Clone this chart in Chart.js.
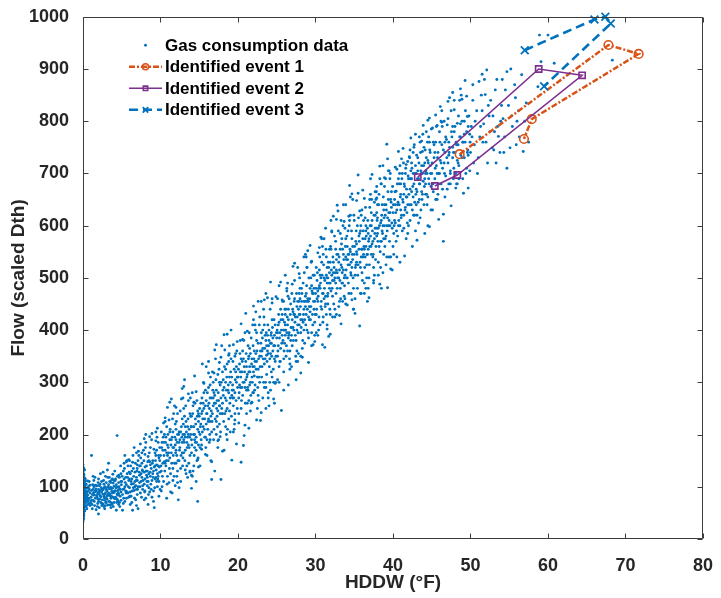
<!DOCTYPE html>
<html><head><meta charset="utf-8">
<script src="https://cdn.jsdelivr.net/npm/chart.js@4/dist/chart.umd.min.js"></script>
<style>html,body{margin:0;padding:0;background:#fff;}#wrap{width:721px;height:598px;}</style>
</head><body><div id="wrap"><canvas id="c" width="721" height="598"></canvas></div>
<script>
// ---- tick values ----
const xTickValues = [0,10,20,30,40,50,60,70,80];
const yTickValues = [0,100,200,300,400,500,600,700,800,900,1000];

// ---- gas consumption scatter (HDDW, Flow), by HDDW band ----
const gasBand0 = [[0,35],[0,42],[0.1,48],[0,52],[0.2,55],[0,58],[0.1,61],[0.3,63],[0,65],[0.2,67],[0,68],[0.1,70],[0.4,71],[0,72],[0.2,73],[0.1,74],[0,75],[0.3,76],[0.1,77],[0,78],[0.2,79],[0.5,80],[0,81],[0.1,82],[0.3,83],[0,84],[0.2,85],[0.1,86],[0,87],[0.4,88],[0.2,89],[0,90],[0.1,91],[0.3,92],[0,93],[0.2,94],[0.1,95],[0,96],[0.5,97],[0.2,98],[0,99],[0.1,101],[0.3,103],[0,105],[0.2,107],[0.1,110],[0,112],[0.3,115],[0,118],[0.1,122],[0,127],[0.2,132],[0,138],[0.1,60],[0.6,66],[0.7,92],[0.4,105],[0.8,78],[0,45],[0.1,39],[0.2,100],[0.6,84],[0.3,70],[0.5,58],[0.9,88],[0.7,74],[0.1,108],[0.8,96],[0.4,62],[0.6,111]];
const gasBand0b = [[0,33],[0.1,44],[0,50],[0.2,53],[0,56],[0.1,57],[0,59],[0.3,62],[0,64],[0.1,66],[0.2,69],[0,70],[0.1,73],[0.3,74],[0,76],[0.2,77],[0.1,79],[0,80],[0.3,81],[0.1,83],[0,85],[0.2,86],[0.4,87],[0,89],[0.1,90],[0.3,91],[0,92],[0.2,93],[0.1,94],[0,97],[0.3,98],[0.1,100],[0,102],[0.2,104],[0,106],[0.1,109],[0.3,111],[0,114],[0.2,117],[0,120],[0.1,124],[0,130],[0.1,135],[0,142],[0.6,72],[0.5,90],[0.7,100],[0.9,64],[0.8,110],[0.55,76]];
const gasBand1 = [[1.0,70],[1.2,85],[1.3,95],[1.5,64],[1.6,78],[1.8,102],[1.9,88],[2.0,72],[2.1,60],[2.2,93],[2.3,81],[2.4,110],[2.5,75],[2.6,67],[2.7,98],[2.8,86],[2.9,120],[3.0,79],[3.1,92],[3.2,65],[3.3,104],[3.4,83],[3.5,71],[3.6,96],[3.7,113],[3.8,88],[3.9,62],[4.0,101],[4.1,77],[4.2,92],[4.3,55],[4.4,198],[4.5,84],[4.6,108],[4.7,70],[4.8,95],[4.9,125],[1.1,160],[1.4,112],[1.7,56],[2.0,48],[2.4,90],[2.7,105],[3.0,70],[3.4,96],[3.8,115],[4.2,80],[4.6,66],[4.9,90],[1.3,74],[1.6,92],[2.2,83],[2.8,74],[3.3,88],[3.6,78],[4.0,89],[4.4,99],[4.8,82],[0.9,103],[1.5,90],[2.5,95],[3.5,86],[4.5,93],[1.9,68],[2.9,64],[3.9,107],[4.7,118],[2.1,102],[3.2,118],[4.1,130],[1.2,58],[2.6,128],[3.7,69],[4.3,104],[1.8,81],[2.3,70],[3.1,83],[4.9,74],[0.8,68],[1.1,93],[2.0,115],[2.9,97],[3.6,60],[4.6,86],[4.0,70],[1.4,100],[3.0,108],[4.4,76],[2.7,62],[3.8,97]];
const gasBand1b = [[1.05,80],[1.15,66],[1.25,104],[1.35,88],[1.45,72],[1.55,118],[1.65,96],[1.75,84],[1.85,62],[1.95,108],[2.05,90],[2.15,76],[2.25,125],[2.35,98],[2.45,64],[2.55,86],[2.65,112],[2.75,79],[2.85,100],[2.95,70],[3.05,94],[3.15,132],[3.25,85],[3.35,72],[3.45,110],[3.55,99],[3.65,82],[3.75,66],[3.85,124],[3.95,91],[4.05,78],[4.15,112],[4.25,98],[4.35,70],[4.45,120],[4.55,88],[4.65,100],[4.75,62],[4.85,140],[4.95,104],[1.1,74],[1.6,103],[2.1,86],[2.6,94],[3.1,76],[3.6,108],[4.1,92],[4.6,122],[1.4,84],[1.9,77],[2.4,68],[2.9,88],[3.4,118],[3.9,80],[4.4,86],[4.9,110],[1.7,92],[2.2,105],[2.7,82],[3.2,99],[3.7,91],[4.2,115],[4.7,96],[1.3,120],[2.8,58],[3.3,145],[4.5,73],[2.0,95],[3.5,65],[4.0,112]];
const gasBand2 = [[5.0,110],[5.1,85],[5.2,130],[5.3,96],[5.4,72],[5.5,118],[5.6,104],[5.7,90],[5.8,140],[5.9,112],[6.0,98],[6.1,125],[6.2,82],[6.3,115],[6.4,147],[6.5,106],[6.6,93],[6.7,128],[6.8,75],[6.9,118],[7.0,135],[7.1,100],[7.2,160],[7.3,122],[7.4,88],[7.5,110],[7.6,145],[7.7,95],[7.8,170],[7.9,128],[8.0,115],[8.1,200],[8.2,140],[8.3,102],[8.4,158],[8.5,125],[8.6,90],[8.7,175],[8.8,135],[8.9,112],[9.0,150],[9.1,130],[9.2,60],[9.3,165],[9.4,118],[9.5,142],[9.6,100],[9.7,185],[9.8,155],[9.9,128],[5.2,68],[5.6,78],[6.0,150],[6.3,70],[6.7,100],[7.0,85],[7.3,108],[7.7,130],[8.0,92],[8.3,130],[8.6,148],[8.9,80],[9.2,138],[9.5,170],[9.8,110],[5.4,100],[6.2,110],[6.9,95],[7.6,118],[8.4,110],[9.1,92],[9.7,140],[5.8,88],[6.5,135],[7.1,150],[7.9,105],[8.7,120],[9.4,160],[6.1,90],[7.4,140],[8.5,98],[9.9,175],[5.3,145],[7.0,112],[8.2,122],[9.6,125],[6.8,102],[8.0,162],[9.3,115],[5.9,80]];
const gasBand2b = [[5.05,120],[5.15,95],[5.25,78],[5.35,135],[5.45,108],[5.55,88],[5.65,150],[5.75,118],[5.85,100],[5.95,128],[6.05,82],[6.15,140],[6.25,105],[6.35,92],[6.45,160],[6.55,120],[6.65,78],[6.75,145],[6.85,112],[6.95,130],[7.05,95],[7.15,168],[7.25,128],[7.35,100],[7.45,155],[7.55,80],[7.65,132],[7.75,112],[7.85,150],[7.95,90],[8.05,175],[8.15,130],[8.25,110],[8.35,148],[8.45,85],[8.55,165],[8.65,128],[8.75,105],[8.85,190],[8.95,145],[9.05,118],[9.15,172],[9.25,98],[9.35,150],[9.45,132],[9.55,195],[9.65,115],[9.75,160],[9.85,138],[9.95,95],[5.5,92],[6.0,115],[6.5,98],[7.0,142],[7.5,125],[8.0,138],[8.5,150],[9.0,125],[9.5,110],[5.3,115],[6.3,130],[7.3,140],[8.3,118],[9.3,140],[5.7,125],[6.7,110],[7.7,102],[8.7,142],[9.7,120],[6.9,165],[8.1,185],[9.4,205],[7.9,75],[8.8,95],[9.9,150]];
const gasBand2c = [[5.1,55],[5.6,148],[6.1,66],[6.6,175],[7.1,58],[7.6,165],[8.1,78],[8.6,196],[9.1,72],[9.6,212],[5.4,160],[6.4,55],[7.4,182],[8.4,66],[9.4,188],[5.9,152],[6.9,64],[7.9,192],[8.9,202],[9.8,82]];
const gasBand3 = [[10.0,160],[10.1,130],[10.2,185],[10.3,145],[10.4,110],[10.5,200],[10.6,170],[10.7,140],[10.8,215],[10.9,180],[11.0,150],[11.1,228],[11.2,190],[11.3,125],[11.4,165],[11.5,88],[11.6,205],[11.7,175],[11.8,145],[11.9,220],[12.0,190],[12.1,160],[12.2,240],[12.3,75],[12.4,205],[12.5,175],[12.6,135],[12.7,215],[12.8,185],[12.9,155],[13.0,250],[13.1,200],[13.2,170],[13.3,225],[13.4,140],[13.5,195],[13.6,265],[13.7,210],[13.8,160],[13.9,235],[14.0,190],[14.1,120],[14.2,255],[14.3,215],[14.4,175],[14.5,230],[14.6,195],[14.7,150],[14.8,72],[14.9,240],[10.3,170],[10.7,195],[11.2,155],[11.6,135],[12.0,170],[12.4,150],[12.8,230],[13.2,195],[13.6,180],[14.0,215],[14.4,200],[14.8,210],[10.5,148],[11.0,175],[11.5,195],[12.0,210],[12.5,190],[13.0,165],[13.5,215],[14.0,165],[14.5,185],[10.9,120],[11.9,180],[12.9,200],[13.9,200],[14.9,180],[10.2,100],[11.3,90],[12.6,110],[13.8,130],[14.6,110],[10.6,225],[12.2,130],[13.4,185],[14.3,140],[11.7,240],[13.1,235],[14.7,265],[14.0,97]];
const gasBand3b = [[10.05,140],[10.15,175],[10.25,120],[10.35,195],[10.45,160],[10.55,130],[10.65,185],[10.75,150],[10.85,105],[10.95,200],[11.05,165],[11.15,135],[11.25,210],[11.35,180],[11.45,145],[11.55,230],[11.65,160],[11.75,120],[11.85,195],[11.95,165],[12.05,225],[12.15,185],[12.25,150],[12.35,200],[12.45,170],[12.55,245],[12.65,160],[12.75,195],[12.85,140],[12.95,220],[13.05,185],[13.15,150],[13.25,255],[13.35,205],[13.45,175],[13.55,230],[13.65,145],[13.75,195],[13.85,270],[13.95,215],[14.05,180],[14.15,240],[14.25,200],[14.35,160],[14.45,260],[14.55,220],[14.65,185],[14.75,235],[14.85,155],[14.95,205],[10.4,185],[10.8,165],[11.2,205],[11.6,175],[12.0,145],[12.4,185],[12.8,165],[13.2,215],[13.6,200],[14.0,235],[14.4,190],[14.8,245],[10.6,145],[11.4,190],[12.2,200],[13.0,190],[13.8,240],[14.6,170],[10.1,205],[11.1,108],[12.1,120],[13.3,125],[14.2,130],[11.8,255],[12.9,270],[14.1,280],[10.9,160],[12.6,205],[13.7,175],[14.9,225]];
const gasBand3c = [[10.1,92],[10.4,222],[10.8,78],[11.2,262],[11.6,112],[12.0,252],[12.4,98],[12.8,288],[13.2,132],[13.6,278],[14.0,122],[14.4,312],[14.8,152],[10.6,232],[11.4,268],[12.2,108],[13.0,292],[13.8,128],[14.6,282],[11.9,102],[12.7,268],[13.5,118],[14.3,262],[10.9,252],[14.9,138]];
const gasBand4 = [[15.0,235],[15.1,200],[15.2,260],[15.3,180],[15.4,245],[15.5,215],[15.6,280],[15.7,230],[15.8,195],[15.9,265],[16.0,240],[16.1,210],[16.2,290],[16.3,250],[16.4,225],[16.5,150],[16.6,270],[16.7,240],[16.8,300],[16.9,210],[17.0,130],[17.1,260],[17.2,285],[17.3,235],[17.4,315],[17.5,265],[17.6,220],[17.7,295],[17.8,114],[17.9,250],[18.0,320],[18.1,275],[18.2,391],[18.3,240],[18.4,300],[18.5,265],[18.6,335],[18.7,285],[18.8,230],[18.9,310],[19.0,270],[19.1,345],[19.2,151],[19.3,295],[19.4,255],[19.5,325],[19.6,280],[19.7,355],[19.8,300],[19.9,250],[15.2,220],[15.6,250],[16.0,190],[16.4,270],[16.8,255],[17.2,200],[17.6,300],[18.0,260],[18.4,215],[18.8,340],[19.2,310],[19.6,240],[15.4,205],[15.8,285],[16.2,230],[16.6,205],[17.0,275],[17.4,245],[17.8,270],[18.2,290],[18.6,250],[19.0,300],[19.4,285],[19.8,330],[15.1,175],[16.3,185],[17.5,190],[18.5,200],[19.5,210],[13.1,305],[15.9,330],[17.1,345],[18.9,370],[16.7,320],[20.4,147],[17.6,338],[16.6,114]];
const gasBand4b = [[15.05,250],[15.15,215],[15.25,190],[15.35,270],[15.45,230],[15.55,300],[15.65,210],[15.75,255],[15.85,175],[15.95,240],[16.05,280],[16.15,225],[16.25,260],[16.35,200],[16.45,310],[16.55,245],[16.65,225],[16.75,285],[16.85,190],[16.95,260],[17.05,230],[17.15,305],[17.25,250],[17.35,215],[17.45,280],[17.55,325],[17.65,255],[17.75,205],[17.85,300],[17.95,240],[18.05,285],[18.15,225],[18.25,330],[18.35,270],[18.45,245],[18.55,310],[18.65,210],[18.75,295],[18.85,355],[18.95,260],[19.05,320],[19.15,235],[19.25,285],[19.35,340],[19.45,270],[19.55,220],[19.65,305],[19.75,265],[19.85,360],[19.95,290],[15.3,240],[15.7,195],[16.1,255],[16.5,235],[16.9,280],[17.3,265],[17.7,240],[18.1,305],[18.5,285],[18.9,245],[19.3,270],[19.7,320],[15.5,260],[16.4,295],[17.2,225],[18.0,240],[18.8,280],[19.6,350],[15.9,220],[16.8,270],[17.6,255],[18.4,325],[19.2,275],[19.9,310],[16.0,160],[17.4,175],[18.6,190],[19.4,205],[16.2,340],[17.9,370]];
const gasBand4c = [[15.1,140],[15.4,335],[15.8,162],[16.2,318],[16.6,148],[17.0,362],[17.4,188],[17.8,348],[18.2,170],[18.6,392],[19.0,205],[19.4,372],[19.8,182],[15.6,298],[16.4,190],[17.2,372],[18.0,168],[18.8,352],[19.6,228],[16.9,318],[17.7,196],[18.3,362],[19.1,400],[15.3,172],[19.9,378]];
const gasBand5 = [[20.0,310],[20.1,270],[20.2,335],[20.3,290],[20.4,250],[20.5,320],[20.6,360],[20.7,179],[20.8,300],[20.9,218],[21.0,340],[21.1,285],[21.2,315],[21.3,370],[21.4,265],[21.5,330],[21.6,300],[21.7,385],[21.8,345],[21.9,280],[22.0,320],[22.1,360],[22.2,295],[22.3,435],[22.4,340],[22.5,310],[22.6,375],[22.7,265],[22.8,350],[22.9,227],[23.0,395],[23.1,330],[23.2,365],[23.3,300],[23.4,410],[23.5,345],[23.6,380],[23.7,315],[23.8,360],[23.9,280],[24.0,400],[24.1,345],[24.2,375],[24.3,320],[24.4,420],[24.5,360],[24.6,300],[24.7,390],[24.8,340],[24.9,464],[20.2,295],[20.6,275],[21.0,305],[21.4,320],[21.8,310],[22.2,340],[22.6,325],[23.0,350],[23.4,335],[23.8,390],[24.2,355],[24.6,370],[20.4,345],[21.2,260],[22.0,280],[22.8,300],[23.6,290],[24.4,310],[20.8,330],[21.6,355],[22.4,380],[23.2,400],[24.0,380],[24.8,410],[21.1,240],[22.5,250],[23.9,270],[24.7,260],[20.3,380],[21.9,410],[23.3,440],[24.1,300],[22.1,312],[23.7,352],[20.9,290],[24.3,395],[21.5,295]];
const gasBand5b = [[20.05,325],[20.15,280],[20.25,355],[20.35,310],[20.45,265],[20.55,340],[20.65,300],[20.75,380],[20.85,320],[20.95,260],[21.05,355],[21.15,310],[21.25,290],[21.35,345],[21.45,395],[21.55,320],[21.65,275],[21.75,335],[21.85,300],[21.95,370],[22.05,345],[22.15,285],[22.25,400],[22.35,325],[22.45,360],[22.55,290],[22.65,345],[22.75,410],[22.85,330],[22.95,375],[23.05,310],[23.15,385],[23.25,345],[23.35,425],[23.45,365],[23.55,300],[23.65,395],[23.75,340],[23.85,410],[23.95,370],[24.05,330],[24.15,440],[24.25,390],[24.35,350],[24.45,405],[24.55,325],[24.65,420],[24.75,370],[24.85,300],[24.95,395],[20.3,320],[20.7,345],[21.1,330],[21.5,365],[21.9,330],[22.3,355],[22.7,310],[23.1,360],[23.5,390],[23.9,355],[24.3,375],[24.7,345],[20.5,290],[21.3,285],[22.1,330],[22.9,360],[23.7,370],[24.5,385],[20.1,240],[21.7,260],[22.6,275],[23.4,290],[24.2,285],[20.9,395],[22.0,420],[23.0,455],[24.4,460],[21.4,350],[22.4,395],[24.9,350]];
const gasBand5c = [[20.1,222],[20.4,412],[20.8,198],[21.2,398],[21.6,245],[22.0,446],[22.4,228],[22.8,425],[23.2,270],[23.6,470],[24.0,255],[24.4,452],[24.8,298],[20.6,382],[21.4,212],[22.2,410],[23.0,242],[23.8,462],[24.6,268],[21.0,432],[22.6,455],[23.4,458],[24.2,492],[21.8,262],[23.6,250]];
const gasBand6 = [[25.0,385],[25.1,350],[25.2,410],[25.3,330],[25.4,395],[25.5,365],[25.6,246],[25.7,430],[25.8,380],[25.9,345],[26.0,415],[26.1,390],[26.2,440],[26.3,475],[26.4,360],[26.5,420],[26.6,395],[26.7,335],[26.8,450],[26.9,405],[27.0,370],[27.1,435],[27.2,400],[27.3,460],[27.4,425],[27.5,380],[27.6,445],[27.7,410],[27.8,355],[27.9,470],[28.0,430],[28.1,395],[28.2,455],[28.3,420],[28.4,490],[28.5,440],[28.6,375],[28.7,465],[28.8,430],[28.9,400],[29.0,552],[29.1,455],[29.2,420],[29.3,480],[29.4,445],[29.5,395],[29.6,470],[29.7,505],[29.8,440],[29.9,415],[25.2,370],[25.6,400],[26.0,375],[26.4,410],[26.8,380],[27.2,430],[27.6,400],[28.0,460],[28.4,415],[28.8,470],[29.2,445],[29.6,430],[25.4,340],[26.2,350],[27.0,420],[27.8,440],[28.6,420],[29.4,500],[25.8,420],[26.6,460],[27.4,390],[28.2,480],[29.0,460],[29.8,480],[25.3,300],[26.9,330],[28.1,350],[29.5,370],[25.9,455],[27.3,495],[28.9,520],[26.5,385],[27.9,410],[29.1,425],[25.1,395],[27.6,360],[28.5,455],[26.1,430],[29.9,455]];
const gasBand6b = [[25.05,400],[25.15,360],[25.25,430],[25.35,385],[25.45,340],[25.55,420],[25.65,375],[25.75,455],[25.85,400],[25.95,360],[26.05,440],[26.15,400],[26.25,370],[26.35,425],[26.45,465],[26.55,390],[26.65,345],[26.75,430],[26.85,405],[26.95,470],[27.05,440],[27.15,380],[27.25,455],[27.35,415],[27.45,350],[27.55,470],[27.65,425],[27.75,395],[27.85,455],[27.95,500],[28.05,445],[28.15,405],[28.25,470],[28.35,380],[28.45,430],[28.55,510],[28.65,455],[28.75,410],[28.85,485],[28.95,440],[29.05,395],[29.15,500],[29.25,460],[29.35,420],[29.45,530],[29.55,475],[29.65,410],[29.75,455],[29.85,505],[29.95,430],[25.3,415],[25.7,390],[26.1,410],[26.5,440],[26.9,390],[27.3,430],[27.7,455],[28.1,420],[28.5,400],[28.9,455],[29.3,435],[29.7,470],[25.5,440],[26.3,395],[27.1,405],[27.9,430],[28.7,445],[29.5,485],[25.9,320],[26.7,360],[27.5,340],[28.3,365],[29.1,385],[29.9,390],[25.1,460],[26.4,490],[27.7,520],[28.8,540],[26.0,400],[28.0,480]];
const gasBand6c = [[25.1,305],[25.5,492],[25.9,285],[26.3,480],[26.7,325],[27.1,522],[27.5,305],[27.9,508],[28.3,348],[28.7,545],[29.1,338],[29.5,532],[29.9,378],[25.7,458],[26.5,295],[27.3,528],[28.1,318],[28.9,520],[29.7,372],[26.1,505],[27.7,340],[28.5,540],[29.3,562],[25.3,485],[27.0,488]];
const gasBand7 = [[30.0,470],[30.1,430],[30.2,495],[30.3,455],[30.4,400],[30.5,515],[30.6,480],[30.7,445],[30.8,530],[30.9,470],[31.0,425],[31.1,500],[31.2,367],[31.3,465],[31.4,540],[31.5,490],[31.6,450],[31.7,520],[31.8,480],[31.9,430],[32.0,555],[32.1,505],[32.2,465],[32.3,530],[32.4,495],[32.5,440],[32.6,570],[32.7,515],[32.8,480],[32.9,545],[33.0,500],[33.1,455],[33.2,585],[33.3,525],[33.4,490],[33.5,555],[33.6,515],[33.7,465],[33.8,595],[33.9,540],[34.0,500],[34.1,560],[34.2,525],[34.3,470],[34.4,610],[34.5,550],[34.6,505],[34.7,575],[34.8,535],[34.9,480],[30.2,460],[30.6,505],[31.0,470],[31.4,505],[31.8,510],[32.2,495],[32.6,490],[33.0,530],[33.4,520],[33.8,505],[34.2,545],[34.6,530],[30.4,480],[31.2,495],[32.0,475],[32.8,510],[33.6,545],[34.4,525],[30.8,440],[31.6,470],[32.4,520],[33.2,480],[34.0,535],[34.8,560],[30.3,390],[31.5,410],[32.7,430],[33.9,450],[34.9,440],[30.9,560],[32.1,590],[33.3,610],[34.5,620],[31.3,450],[32.5,500],[33.7,500],[34.1,500],[30.5,485],[31.9,530],[32.8,639],[34.4,677],[34.7,661]];
const gasBand7b = [[30.05,480],[30.15,440],[30.25,510],[30.35,465],[30.45,425],[30.55,540],[30.65,490],[30.75,455],[30.85,505],[30.95,415],[31.05,525],[31.15,480],[31.25,445],[31.35,555],[31.45,500],[31.55,465],[31.65,530],[31.75,490],[31.85,440],[31.95,560],[32.05,515],[32.15,480],[32.25,540],[32.35,450],[32.45,580],[32.55,510],[32.65,470],[32.75,545],[32.85,500],[32.95,590],[33.05,540],[33.15,495],[33.25,460],[33.35,565],[33.45,510],[33.55,600],[33.65,535],[33.75,485],[33.85,560],[33.95,515],[34.05,580],[34.15,535],[34.25,490],[34.35,600],[34.45,555],[34.55,510],[34.65,590],[34.75,545],[34.85,500],[34.95,620],[30.3,475],[30.7,500],[31.1,460],[31.5,520],[31.9,490],[32.3,510],[32.7,535],[33.1,515],[33.5,490],[33.9,575],[34.3,545],[34.7,520],[30.1,520],[31.0,545],[31.8,555],[32.6,555],[33.4,575],[34.2,590],[30.6,410],[31.4,430],[32.2,425],[33.0,445],[33.8,460],[34.6,470],[30.8,575],[32.0,610],[33.6,640],[34.8,650],[31.6,500],[33.2,555]];
const gasBand7c = [[30.1,395],[30.5,558],[30.9,372],[31.3,595],[31.7,388],[32.1,588],[32.5,425],[32.9,628],[33.3,412],[33.7,608],[34.1,448],[34.5,655],[34.9,440],[30.7,578],[31.5,402],[32.3,618],[33.1,428],[33.9,640],[34.7,458],[31.1,575],[32.7,612],[34.3,618],[33.5,455],[31.9,392],[30.3,548]];
const gasBand8 = [[35.0,545],[35.1,505],[35.2,570],[35.3,530],[35.4,480],[35.5,697],[35.6,555],[35.7,408],[35.8,590],[35.9,540],[36.0,510],[36.1,575],[36.2,545],[36.3,490],[36.4,615],[36.5,560],[36.6,525],[36.7,595],[36.8,555],[36.9,500],[37.0,635],[37.1,580],[37.2,545],[37.3,610],[37.4,570],[37.5,520],[37.6,645],[37.7,595],[37.8,560],[37.9,625],[38.0,585],[38.1,530],[38.2,660],[38.3,714],[38.4,605],[38.5,570],[38.6,640],[38.7,600],[38.8,545],[38.9,675],[39.0,620],[39.1,580],[39.2,756],[39.3,481],[39.4,650],[39.5,610],[39.6,690],[39.7,517],[39.8,635],[39.9,595],[35.2,525],[35.6,580],[36.0,555],[36.4,540],[36.8,585],[37.2,600],[37.6,575],[38.0,615],[38.4,570],[38.8,630],[39.2,600],[39.6,625],[35.4,600],[36.2,610],[37.0,560],[37.8,650],[38.6,590],[39.4,600],[35.8,520],[36.6,500],[37.4,540],[38.2,560],[39.0,575],[39.8,665],[35.1,460],[36.3,470],[37.5,490],[38.7,510],[39.5,540],[35.9,620],[37.1,660],[38.5,680],[36.7,545],[37.9,595],[39.1,640],[35.3,565],[38.9,600],[36.5,590],[37.9,653]];
const gasBand8b = [[35.05,560],[35.15,520],[35.25,590],[35.35,545],[35.45,505],[35.55,615],[35.65,570],[35.75,530],[35.85,600],[35.95,555],[36.05,495],[36.15,590],[36.25,560],[36.35,520],[36.45,635],[36.55,580],[36.65,545],[36.75,610],[36.85,570],[36.95,525],[37.05,600],[37.15,560],[37.25,650],[37.35,590],[37.45,545],[37.55,620],[37.65,585],[37.75,535],[37.85,665],[37.95,610],[38.05,570],[38.15,640],[38.25,600],[38.35,550],[38.45,680],[38.55,620],[38.65,585],[38.75,655],[38.85,615],[38.95,560],[39.05,690],[39.15,630],[39.25,590],[39.35,665],[39.45,625],[39.55,570],[39.65,700],[39.75,645],[39.85,605],[39.95,675],[35.3,550],[35.7,585],[36.1,540],[36.5,600],[36.9,575],[37.3,565],[37.7,620],[38.1,595],[38.5,610],[38.9,640],[39.3,615],[39.7,650],[35.5,525],[36.4,575],[37.2,625],[38.0,640],[38.8,575],[39.6,600],[35.0,610],[36.0,630],[37.0,650],[38.3,690],[39.4,705],[35.8,470],[36.8,480],[37.6,505],[38.4,520],[39.2,540],[36.3,555],[37.9,580]];
const gasBand8c = [[35.1,432],[35.5,662],[35.9,470],[36.3,652],[36.7,455],[37.1,690],[37.5,495],[37.9,675],[38.3,488],[38.7,715],[39.1,525],[39.5,705],[39.9,515],[35.7,628],[36.5,480],[37.3,698],[38.1,505],[38.9,692],[39.7,540],[36.1,668],[37.7,665],[39.3,728],[38.5,480],[36.9,462],[35.3,648]];
const gasBand9 = [[40.0,625],[40.1,585],[40.2,650],[40.3,605],[40.4,666],[40.5,630],[40.6,580],[40.7,690],[40.8,640],[40.9,600],[41.0,660],[41.1,620],[41.2,700],[41.3,645],[41.4,595],[41.5,675],[41.6,635],[41.7,717],[41.8,655],[41.9,723],[42.0,690],[42.1,640],[42.2,610],[42.3,705],[42.4,665],[42.5,630],[42.6,740],[42.7,680],[42.8,645],[42.9,715],[43.0,670],[43.1,620],[43.2,730],[43.3,690],[43.4,650],[43.5,760],[43.6,705],[43.7,665],[43.8,742],[43.9,685],[44.0,640],[44.1,720],[44.2,680],[44.3,730],[44.4,700],[44.5,655],[44.6,770],[44.7,806],[44.8,715],[44.9,675],[40.2,610],[40.6,640],[41.0,630],[41.4,660],[41.8,625],[42.2,670],[42.6,655],[43.0,700],[43.4,680],[43.8,660],[44.2,700],[44.6,690],[40.4,570],[41.2,590],[42.0,600],[42.8,620],[43.6,630],[44.4,640],[40.8,680],[41.6,700],[42.4,720],[43.2,705],[44.0,750],[44.8,740],[40.5,540],[42.9,590],[44.5,600]];
const gasBand9b = [[40.05,640],[40.15,600],[40.25,665],[40.35,625],[40.45,590],[40.55,680],[40.65,645],[40.75,610],[40.85,700],[40.95,655],[41.05,615],[41.15,690],[41.25,650],[41.35,720],[41.45,680],[41.55,630],[41.65,710],[41.75,670],[41.85,605],[41.95,695],[42.05,660],[42.15,730],[42.25,690],[42.35,640],[42.45,710],[42.55,675],[42.65,620],[42.75,755],[42.85,700],[42.95,660],[43.05,735],[43.15,690],[43.25,645],[43.35,720],[43.45,680],[43.55,740],[43.65,700],[43.75,650],[43.85,775],[43.95,715],[44.05,675],[44.15,745],[44.25,705],[44.35,660],[44.45,760],[44.55,720],[44.65,680],[44.75,745],[44.85,700],[44.95,785],[40.3,640],[41.0,680],[41.7,655],[42.4,690],[43.1,665],[43.8,700],[44.5,725],[40.7,600],[41.9,640],[43.0,640],[44.2,660],[40.9,715],[42.2,745],[43.4,770],[44.7,760],[41.4,620],[42.6,700],[43.7,715],[44.1,690],[40.0,560]];
const gasBand9c = [[40.1,545],[40.5,708],[40.9,530],[41.3,748],[41.7,575],[42.1,732],[42.5,560],[42.9,775],[43.3,605],[43.7,762],[44.1,585],[44.5,802],[44.9,630],[40.7,742],[41.5,542],[42.3,768],[43.1,572],[43.9,792],[44.7,598],[41.1,728],[42.7,750],[44.3,780],[43.5,615],[41.9,585],[40.3,712]];
const gasBand10 = [[45.0,700],[45.1,787],[45.2,665],[45.3,730],[45.4,690],[45.5,760],[45.6,715],[45.7,650],[45.8,740],[45.9,700],[46.0,780],[46.1,725],[46.2,680],[46.3,755],[46.4,710],[46.5,570],[46.6,800],[46.7,740],[46.8,695],[46.9,765],[47.0,793],[47.1,720],[47.2,680],[47.3,750],[47.4,705],[47.5,820],[47.6,770],[47.7,730],[47.8,690],[47.9,780],[48.0,740],[48.1,700],[48.3,796],[48.4,755],[48.5,715],[48.6,840],[48.7,770],[48.9,730],[49.0,690],[49.2,800],[49.3,760],[49.6,809],[49.7,735],[49.9,775],[45.4,740],[46.0,700],[46.6,720],[47.2,760],[47.8,740],[48.4,720],[49.0,760],[49.6,740],[45.8,660],[47.0,670],[48.2,680],[49.4,700],[46.3,820],[48.8,850]];
const gasBand10b = [[45.05,720],[45.15,680],[45.3,755],[45.45,710],[45.6,790],[45.75,730],[45.9,680],[46.05,760],[46.2,720],[46.35,790],[46.5,745],[46.65,700],[46.8,770],[46.95,730],[47.1,805],[47.25,740],[47.4,700],[47.55,780],[47.7,750],[47.85,710],[48.0,790],[48.15,760],[48.3,725],[48.45,810],[48.6,770],[48.75,735],[48.9,800],[49.05,760],[49.2,730],[49.35,820],[49.5,780],[49.65,745],[49.8,810],[49.95,760],[45.2,760],[45.7,700],[46.2,800],[46.7,760],[47.2,735],[47.7,790],[48.2,755],[48.7,795],[49.2,775],[49.7,790],[45.5,650],[46.4,670],[47.4,680],[48.5,690],[49.5,710],[47.9,840]];
const gasBand10c = [[45.1,630],[45.5,812],[45.9,612],[46.3,798],[46.7,655],[47.1,838],[47.5,638],[47.9,822],[48.3,680],[48.7,862],[49.1,662],[49.5,848],[49.9,705],[45.7,792],[46.5,622],[47.3,845],[48.1,672],[48.9,842],[49.7,672],[46.1,828],[47.7,855],[49.3,878]];
const gasBand11 = [[50.2,770],[50.6,800],[51.0,730],[51.1,876],[51.3,790],[51.6,760],[51.9,851],[52.1,898],[52.4,810],[52.8,749],[53.1,780],[53.6,771],[54.0,830],[54.5,860],[54.7,710],[54.7,895],[55.1,749],[55.7,870],[55.9,755],[56.0,800],[56.6,889],[56.8,742],[57.5,760],[58.7,866],[58.9,965],[59.1,914],[60.0,965],[60.8,911],[68.3,917],[50.4,720],[51.5,820],[52.6,840],[53.3,720],[53.9,800],[55.3,810],[57.2,835]];
const gasBand11b = [[50.1,790],[50.3,840],[50.5,755],[50.8,820],[51.2,770],[51.4,850],[51.7,795],[52.0,760],[52.3,830],[52.5,780],[52.9,810],[53.2,860],[53.5,790],[53.8,740],[54.2,805],[54.4,770],[54.9,830],[55.4,790],[55.8,845],[56.3,770],[50.0,740],[51.8,880],[53.0,745],[54.1,880],[57.0,800],[50.3,870],[50.9,700],[51.5,890],[52.2,720],[53.4,880],[54.3,740],[55.2,900],[56.2,820]];

// ---- identified events ----
const event1HDDW = [48.6, 67.8, 71.7, 57.9, 56.9];
const event1Flow = [737, 946, 929, 804, 766];
const event2HDDW = [43.2, 58.8, 64.4, 48.3, 45.4];
const event2Flow = [693, 900, 888, 697, 676];
const event3HDDW = [57.0, 66.0, 67.4, 68.1, 59.5];
const event3Flow = [936, 995, 1000, 987, 867];

const seriesLabels = ['Gas consumption data','Identified event 1','Identified event 2','Identified event 3'];

const gasData = [gasBand0,gasBand0b,gasBand1,gasBand1b,gasBand2,gasBand2b,gasBand2c,gasBand3,gasBand3b,gasBand3c,
  gasBand4,gasBand4b,gasBand4c,gasBand5,gasBand5b,gasBand5c,gasBand6,gasBand6b,gasBand6c,gasBand7,gasBand7b,gasBand7c,
  gasBand8,gasBand8b,gasBand8c,gasBand9,gasBand9b,gasBand9c,gasBand10,gasBand10b,gasBand10c,gasBand11,gasBand11b]
  .flat().map(p => ({x: p[0], y: p[1]}));
const toXY = (xs, ys) => xs.map((v, i) => ({x: v, y: ys[i]}));

const FONT = '"Liberation Sans", Arial, Helvetica, sans-serif';
const AX = '#262626';

const framePlugin = {
  id: 'frame',
  afterDatasetsDraw(chart) {
    const {ctx, chartArea: a, scales: {x, y}} = chart;
    ctx.save();
    ctx.strokeStyle = '#3c3c3c';
    ctx.lineWidth = 1;
    const L = Math.round(a.left) + 0.5, R = Math.round(a.right) - 0.5;
    const T = Math.round(a.top) + 0.5, B = Math.round(a.bottom) - 0.5;
    ctx.beginPath();
    ctx.rect(L, T, R - L, B - T);
    const tl = 5;
    x.ticks.forEach(t => {
      const p = Math.round(x.getPixelForValue(t.value)) + 0.5;
      ctx.moveTo(p, B); ctx.lineTo(p, B - tl);
      ctx.moveTo(p, T); ctx.lineTo(p, T + tl);
    });
    y.ticks.forEach(t => {
      const p = Math.round(y.getPixelForValue(t.value)) + 0.5;
      ctx.moveTo(L, p); ctx.lineTo(L + tl, p);
      ctx.moveTo(R, p); ctx.lineTo(R - tl, p);
    });
    ctx.stroke();
    ctx.restore();
  }
};

const legendPlugin = {
  id: 'matlabLegend',
  afterDraw(chart) {
    const {ctx, chartArea: a} = chart;
    ctx.save();
    chart.data.datasets.forEach((ds, i) => {
      const yy = a.top + 28.5 + i * 21.5;
      const x0 = a.left + 46, x1 = a.left + 79, xm = (x0 + x1) / 2;
      if (ds.showLine) {
        ctx.strokeStyle = ds.borderColor;
        ctx.lineWidth = ds.borderWidth;
        ctx.setLineDash(ds.borderDash || []);
        ctx.beginPath(); ctx.moveTo(x0, yy); ctx.lineTo(x1, yy); ctx.stroke();
        ctx.setLineDash([]);
      }
      ctx.fillStyle = ds.pointBackgroundColor;
      ctx.strokeStyle = ds.pointBorderColor;
      ctx.lineWidth = ds.pointBorderWidth;
      const r = ds.showLine ? ds.pointRadius * 0.7 : ds.pointRadius;
      Chart.helpers.drawPoint(ctx, {pointStyle: ds.pointStyle, radius: r, borderWidth: ds.pointBorderWidth}, xm, yy);
      ctx.fillStyle = '#000';
      ctx.font = 'bold 17px ' + FONT;
      ctx.textBaseline = 'middle';
      ctx.textAlign = 'left';
      ctx.fillText(ds.label, a.left + 82, yy + 1);
    });
    ctx.restore();
  }
};

new Chart(document.getElementById('c'), {
  type: 'scatter',
  data: {
    datasets: [
      {label: seriesLabels[0], data: gasData, showLine: false, pointStyle: 'circle', pointRadius: 1.45,
       pointBackgroundColor: '#0072BD', pointBorderColor: '#0072BD', pointBorderWidth: 0, order: 10},
      {label: seriesLabels[1], data: toXY(event1HDDW, event1Flow), showLine: true, borderColor: '#D95319', borderWidth: 2.5,
       borderDash: [6, 2, 2, 2], pointStyle: 'circle', pointRadius: 4.3, pointBorderWidth: 1.6,
       pointBackgroundColor: 'rgba(0,0,0,0)', pointBorderColor: '#D95319', clip: false, order: 2},
      {label: seriesLabels[2], data: toXY(event2HDDW, event2Flow), showLine: true, borderColor: '#7E2F8E', borderWidth: 1.6,
       pointStyle: 'rect', pointRadius: 4.4, pointBorderWidth: 1.6,
       pointBackgroundColor: 'rgba(0,0,0,0)', pointBorderColor: '#7E2F8E', clip: false, order: 1},
      {label: seriesLabels[3], data: toXY(event3HDDW, event3Flow), showLine: true, borderColor: '#0072BD', borderWidth: 2.6,
       borderDash: [9, 5], pointStyle: 'crossRot', pointRadius: 5.5, pointBorderWidth: 1.8,
       pointBackgroundColor: 'rgba(0,0,0,0)', pointBorderColor: '#0072BD', clip: false, order: 0}
    ]
  },
  options: {
    responsive: false,
    animation: false,
    events: [],
    layout: {padding: {top: 15, right: 11, left: 0, bottom: 0}},
    plugins: {legend: {display: false}, tooltip: {enabled: false}},
    scales: {
      x: {
        type: 'linear', min: 0, max: 80,
        afterBuildTicks: s => { s.ticks = xTickValues.map(v => ({value: v})); },
        afterFit: s => { s.height = 59; },
        grid: {display: false}, border: {display: false},
        ticks: {color: AX, padding: 8, callback: v => String(v), font: {family: FONT, size: 18, weight: 'bold'}},
        title: {display: true, text: 'HDDW (°F)', color: AX, padding: {top: 0, bottom: 4}, font: {family: FONT, size: 19, weight: 'bold'}}
      },
      y: {
        type: 'linear', min: 0, max: 1000,
        afterBuildTicks: s => { s.ticks = yTickValues.map(v => ({value: v})); },
        afterFit: s => { s.width = 83; },
        grid: {display: false}, border: {display: false},
        ticks: {color: AX, padding: 6, callback: v => String(v), font: {family: FONT, size: 18, weight: 'bold'}},
        title: {display: true, text: 'Flow (scaled Dth)', color: AX, padding: {top: 7, bottom: 0}, font: {family: FONT, size: 19, weight: 'bold'}}
      }
    }
  },
  plugins: [framePlugin, legendPlugin]
});
</script>
</body></html>
